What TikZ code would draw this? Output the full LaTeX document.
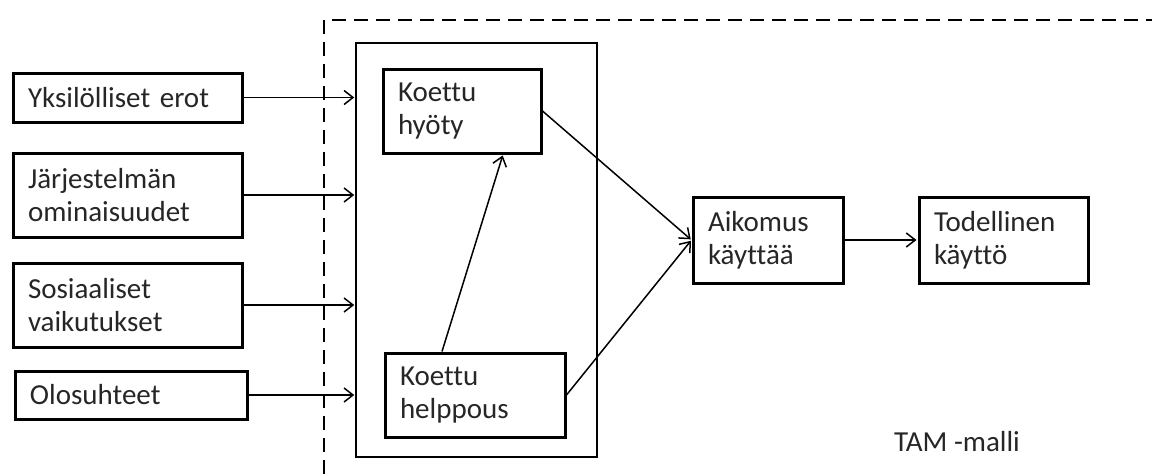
\documentclass[tikz,border=0pt]{standalone}
\usepackage{fontspec}
\setmainfont{Carlito}[Ligatures=NoCommon]
\usetikzlibrary{arrows.meta}

\begin{document}
\begin{tikzpicture}[x=1pt, y=-1pt, line width=1.5pt, >={Straight Barb[length=9pt,width=14pt]},
laatikko/.style 2 args={rectangle, draw, line width=3pt, inner xsep=15pt, inner ysep=0pt, align=left, text width=#1, minimum height=#2, font=\fontsize{29}{33}\selectfont, text=black!85}]
\useasboundingbox (0,0) rectangle (1152,474);
% TAM-kehys
\draw[dash pattern=on 14pt off 8pt, line width=2pt] (324,474) -- (324,20) -- (1152,20);
\node[draw, line width=1.5pt, minimum width=241pt, minimum height=414pt, inner sep=0pt] (sisa) at (476.5,250) {};
\begin{scope}
\node[laatikko={199pt}{49pt}] (yks) at (127.5,97.5) {Yksilölliset erot};
\node[laatikko={199pt}{84pt}] (jar) at (127.5,195) {Järjestelmän\\ominaisuudet};
\node[laatikko={199pt}{84pt}] (sos) at (127.5,305) {Sosiaaliset\\vaikutukset};
\node[laatikko={202pt}{48pt}] (olo) at (131,395) {Olosuhteet};
\node[laatikko={128pt}{84pt}] (hyoty) at (462,111) {Koettu\\hyöty};
\node[laatikko={150pt}{84pt}] (helppous) at (475,395) {Koettu\\helppous};
\node[laatikko={120pt}{86pt}] (aikomus) at (768,240) {Aikomus\\käyttää};
\node[laatikko={139pt}{86pt}] (kaytto) at (1003.5,240) {Todellinen\\käyttö};
\node[font=\fontsize{29}{33}\selectfont, text=black!85] (malli) at (957,442) {TAM -malli};
\end{scope}
\begin{scope}[shorten >=1pt]
\draw[->] (yks.east) -- (yks.east -| sisa.west);
\draw[->] (jar.east) -- (jar.east -| sisa.west);
\draw[->] (sos.east) -- (sos.east -| sisa.west);
\draw[->] (olo.east) -- (olo.east -| sisa.west);
\draw[->] ([xshift=-33pt]helppous.north) -- ([xshift=41pt]hyoty.south);
\draw[->] (hyoty.east) -- (aikomus.west);
\draw[->] (helppous.east) -- (aikomus.west);
\draw[->] (aikomus) -- (kaytto);
\end{scope}
\end{tikzpicture}
\end{document}
